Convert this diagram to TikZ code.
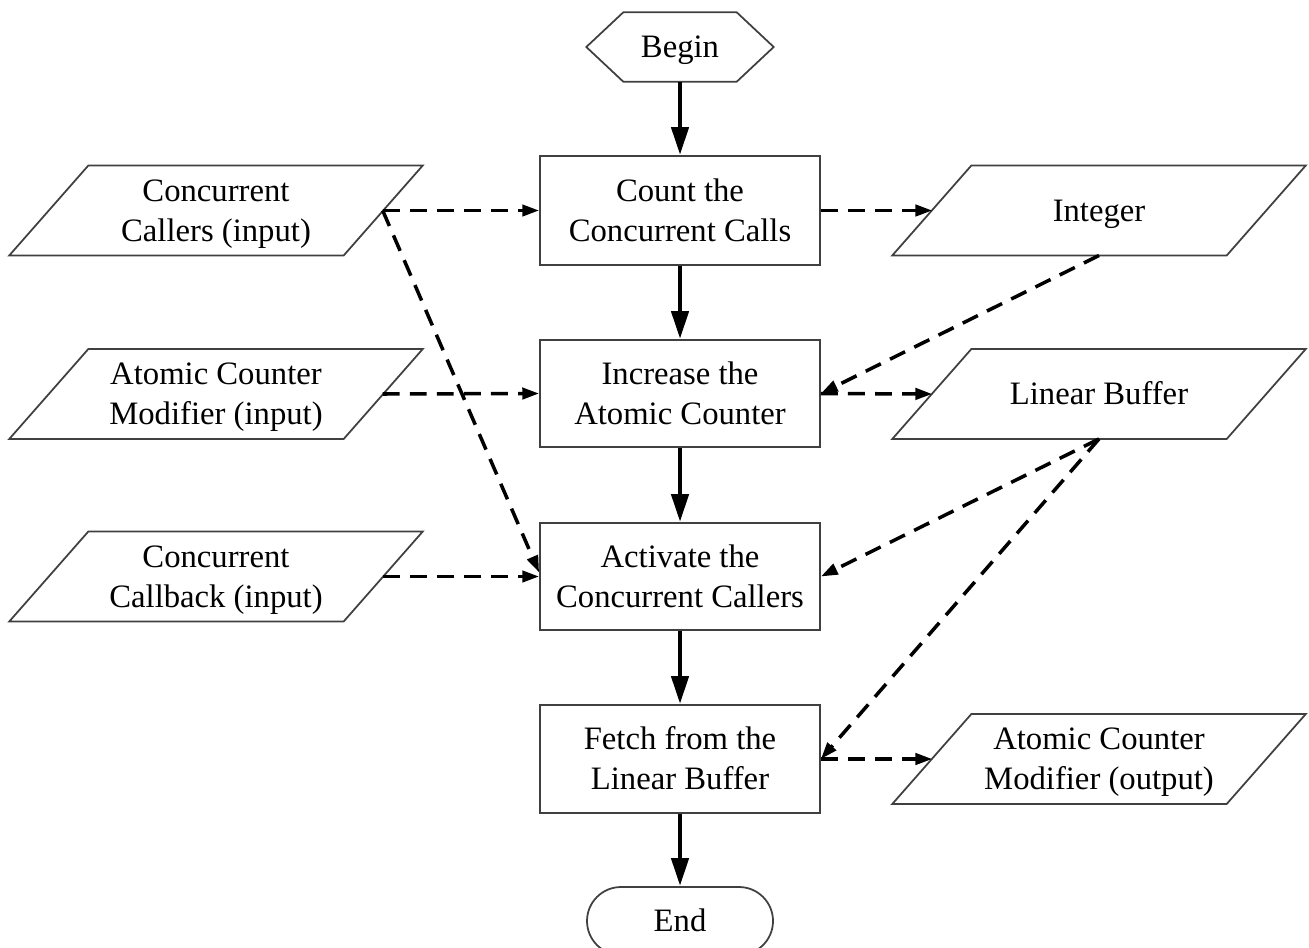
\documentclass[tikz,border=0pt]{standalone}
\usepackage{fontspec}
\setmainfont{Liberation Serif}
\usetikzlibrary{arrows.meta}
\tikzset{
  box/.style={draw=black!75, line width=0.5pt},
  procbox/.style={box, rectangle, minimum width=2.80cm, inner sep=0pt},
  iobox/.style={rectangle, minimum width=4.12cm, minimum height=0.885cm, inner sep=0pt},
  txt/.style={align=center, inner sep=0pt, yshift=-0.028cm, font=\fontsize{9.3}{11.4}\selectfont},
  flow/.style={line width=1.4pt, -{Triangle[length=8pt,width=4.8pt]}},
  data/.style={line width=1pt, dash pattern=on 4.8pt off 2.9pt, -{Triangle[length=4.8pt,width=3.2pt]}}
}
\newcommand\iopath[1]{\draw[box] ([xshift=0.79cm]#1.north west) -- (#1.north east)
  -- ([xshift=-0.79cm]#1.south east) -- (#1.south west) -- cycle;}
\begin{document}
\begin{tikzpicture}
\useasboundingbox (0,0) rectangle (13.09,-9.47);
% Begin
\node[minimum width=1.86cm, minimum height=0.68cm, inner sep=0pt] (begin) at (6.80,-0.47) {};
\draw[box] (begin.west) -- ([xshift=0.37cm]begin.north west) -- ([xshift=-0.37cm]begin.north east)
  -- (begin.east) -- ([xshift=-0.37cm]begin.south east) -- ([xshift=0.37cm]begin.south west) -- cycle;
\node[txt] (begint) at (begin) {\strut Begin};
% process boxes
\node[procbox, minimum height=1.09cm] (count) at (6.80,-2.105) {};
\node[txt] (countt) at (count) {\strut Count the\\\strut Concurrent Calls};
\node[procbox, minimum height=1.07cm] (incr) at (6.80,-3.935) {};
\node[txt] (incrt) at (incr) {\strut Increase the\\\strut Atomic Counter};
\node[procbox, minimum height=1.07cm] (act) at (6.80,-5.765) {};
\node[txt] (actt) at (act) {\strut Activate the\\\strut Concurrent Callers};
\node[procbox, minimum height=1.08cm] (fetch) at (6.80,-7.59) {};
\node[txt] (fetcht) at (fetch) {\strut Fetch from the\\\strut Linear Buffer};
% End
\node[box, rectangle, rounded corners=0.34cm, minimum width=1.86cm, minimum height=0.68cm, inner sep=0pt] (end) at (6.80,-9.21) {};
\node[txt] (endt) at (end) {\strut End};
% left inputs
\node[iobox] (callers) at (2.16,-2.105) {};
\iopath{callers}
\node[txt] (callerst) at (callers) {\strut Concurrent\\\strut Callers (input)};
\node[iobox] (modin) at (2.16,-3.94) {};
\iopath{modin}
\node[txt] (modint) at (modin) {\strut Atomic Counter\\\strut Modifier (input)};
\node[iobox] (callback) at (2.16,-5.765) {};
\iopath{callback}
\node[txt] (callbackt) at (callback) {\strut Concurrent\\\strut Callback (input)};
% right data
\node[iobox] (integer) at (10.99,-2.105) {};
\iopath{integer}
\node[txt] (integert) at (integer) {\strut Integer};
\node[iobox] (buffer) at (10.99,-3.94) {};
\iopath{buffer}
\node[txt] (buffert) at (buffer) {\strut Linear Buffer};
\node[iobox] (modout) at (10.99,-7.59) {};
\iopath{modout}
\node[txt] (modoutt) at (modout) {\strut Atomic Counter\\\strut Modifier (output)};
% main flow
\draw[flow] (begin) -- (count);
\draw[flow] (count) -- (incr);
\draw[flow] (incr) -- (act);
\draw[flow] (act) -- (fetch);
\draw[flow] (fetch) -- (end);
% data flows
\draw[data] ([xshift=-0.40cm]callers.east) -- (count.west);
\draw[data] ([xshift=-0.40cm]callers.east) -- ([yshift=0.04cm]act.west);
\draw[data] ([xshift=-0.40cm]modin.east) -- (incr.west);
\draw[data] ([xshift=-0.40cm]callback.east) -- (act.west);
\draw[data] (count.east) -- ([xshift=0.40cm]integer.west);
\draw[data] (integer.south) -- (incr.east);
\draw[data] (incr.east) -- ([xshift=0.40cm]buffer.west);
\draw[data] (buffer.south) -- (act.east);
\draw[data] (buffer.south) -- (fetch.east);
\draw[data] (fetch.east) -- ([xshift=0.40cm]modout.west);
\end{tikzpicture}
\end{document}
